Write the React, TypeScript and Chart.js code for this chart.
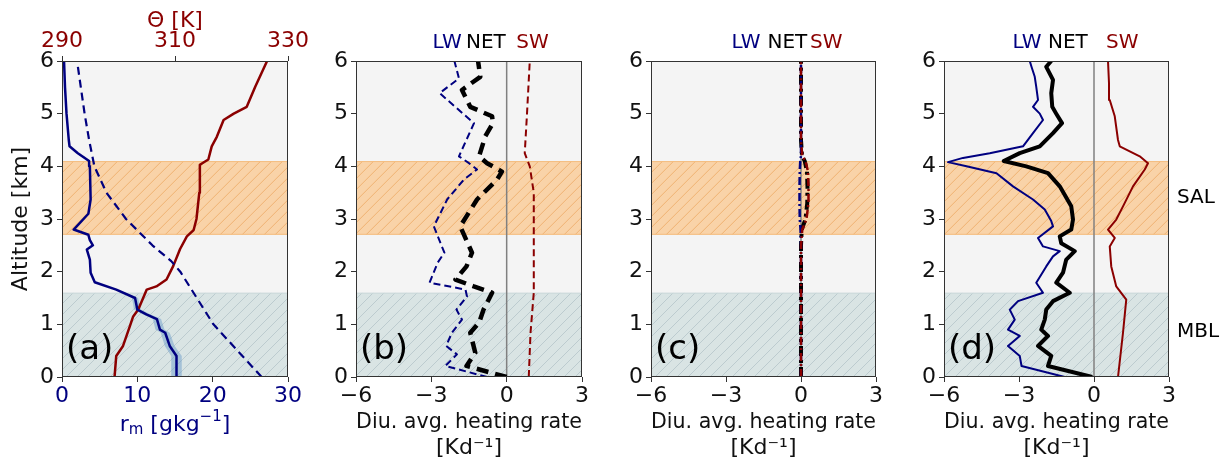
import React, { useEffect, useRef } from 'react';
import { Chart, registerables } from 'chart.js';
Chart.register(...registerables);

const FONT = 'DejaVu Sans';
const NAVY = '#000080';
const DARKRED = '#8b0000';
const FS = 22;

// Layer bands (km)
const SAL_BAND = [2.7, 4.1];
const MBL_BAND = [0, 1.6];
const BAND_NAMES = ['SAL', 'MBL'];

// Panel (a): moisture and potential temperature profiles
const rmAlt = [0, 0.4, 0.59, 0.84, 0.9, 1.1, 1.19, 1.28, 1.5, 1.66, 1.8, 1.98, 2.23, 2.42, 2.5, 2.6, 2.7, 2.8, 3.1, 3.37, 4.0, 4.1, 4.25, 4.38, 4.5, 5.0, 5.5, 6.0];
const rmVal = [15.2, 15.2, 14.3, 13.7, 13.0, 12.6, 11.2, 10.0, 9.7, 7.2, 4.35, 3.8, 3.7, 3.3, 4.1, 3.7, 3.5, 1.55, 3.5, 3.8, 3.7, 3.6, 2.1, 1.0, 0.9, 0.6, 0.4, 0.27];
const rmSpread = [0.7, 0.7, 0.65, 0.6, 0.6, 0.55, 0.5, 0.45, 0.4, 0.15, 0.1, 0, 0, 0, 0, 0, 0, 0, 0, 0, 0, 0, 0, 0, 0, 0, 0, 0];
const rsAlt = [0, 0.5, 1, 1.5, 2, 2.2, 2.5, 3, 3.5, 4, 4.5, 5, 5.5, 6];
const rsVal = [26.5, 23.3, 20.1, 17.9, 15.7, 14.5, 12.0, 8.5, 5.9, 4.3, 3.6, 3.0, 2.5, 2.0];
const thAlt = [0, 0.4, 0.59, 0.96, 1.15, 1.28, 1.66, 1.72, 1.85, 2.11, 2.43, 2.67, 2.79, 3.0, 3.5, 4.03, 4.13, 4.38, 4.56, 4.88, 5.0, 5.13, 5.51, 6.0];
const thVal = [299.3, 299.6, 300.8, 302.0, 302.6, 303.5, 305.0, 306.7, 308.5, 309.7, 310.9, 312.1, 313.3, 313.8, 314.3, 314.4, 315.9, 316.5, 317.4, 318.6, 320.4, 322.7, 324.2, 326.3];

// Panel (b)
const bLWAlt = [0, 0.21, 0.43, 0.59, 0.84, 1.09, 1.28, 1.53, 1.66, 1.79, 1.91, 2.17, 2.36, 2.86, 3.37, 3.75, 3.94, 4.06, 4.19, 4.82, 5.0, 5.39, 5.67, 6.0];
const bLWVal = [-0.78, -2.44, -1.98, -2.41, -2.18, -1.78, -2.0, -1.58, -1.64, -3.07, -2.97, -2.75, -2.48, -2.9, -2.37, -1.7, -1.18, -1.5, -1.9, -1.3, -1.74, -2.67, -1.9, -2.08];
const bNETAlt = [0, 0.21, 0.46, 0.84, 1.03, 1.28, 1.6, 1.72, 1.85, 2.1, 2.36, 2.86, 3.37, 3.75, 3.9, 4.06, 4.19, 4.57, 4.82, 4.95, 5.13, 5.45, 5.7, 6.0];
const bNETVal = [0, -1.6, -1.25, -1.45, -1.1, -0.92, -0.58, -1.31, -2.04, -1.6, -1.38, -1.85, -1.18, -0.38, -0.19, -0.78, -1.1, -0.85, -0.55, -0.58, -1.45, -1.78, -1.05, -1.14];
const bSWAlt = [0, 0.84, 1.6, 2.74, 3.5, 4.0, 4.25, 5.0, 6.0];
const bSWVal = [0.88, 0.95, 1.08, 1.08, 1.08, 0.92, 0.72, 0.81, 0.92];

// Panel (c)
const cAlt = [0, 0.5, 1, 1.5, 2, 2.5, 2.8, 3.0, 3.3, 3.6, 3.9, 4.1, 4.2, 4.5, 5, 5.5, 6];
const cLWVal = [0, 0, 0, 0, 0, 0, -0.02, -0.05, -0.06, -0.06, -0.05, -0.03, 0, 0, 0, 0, 0];
const cNETVal = [0, 0, 0, 0, 0, 0, 0.03, 0.18, 0.25, 0.26, 0.24, 0.15, 0.04, 0, 0, 0, 0];
const cSWVal = [0, 0, 0, 0, 0, 0, 0.05, 0.22, 0.3, 0.3, 0.28, 0.18, 0.05, 0, 0, 0, 0];

// Panel (d)
const dLWAlt = [0, 0.21, 0.4, 0.59, 0.78, 0.9, 1.09, 1.28, 1.44, 1.6, 1.79, 2.1, 2.29, 2.39, 2.48, 2.64, 2.86, 2.96, 3.18, 3.37, 3.62, 3.87, 4.0, 4.08, 4.16, 4.25, 4.38, 4.63, 4.88, 5.0, 5.13, 5.26, 5.51, 5.7, 5.89, 6.0];
const dLWVal = [-1.17, -2.9, -2.97, -3.44, -2.97, -3.44, -3.17, -3.37, -3.04, -2.04, -2.31, -1.91, -1.64, -1.37, -2.04, -2.24, -1.64, -1.71, -1.97, -2.44, -3.24, -3.9, -5.1, -5.84, -5.24, -4.17, -2.84, -2.44, -2.04, -2.17, -2.44, -2.24, -2.31, -2.37, -2.5, -2.57];
const dNETAlt = [0, 0.21, 0.4, 0.59, 0.78, 0.9, 1.09, 1.28, 1.44, 1.6, 1.79, 1.98, 2.23, 2.39, 2.54, 2.67, 2.8, 2.99, 3.24, 3.62, 3.87, 4.0, 4.1, 4.25, 4.38, 4.63, 4.82, 5.0, 5.13, 5.39, 5.64, 5.89, 6.0];
const dNETVal = [-0.07, -1.84, -1.71, -2.24, -1.84, -2.11, -1.97, -1.91, -1.64, -0.97, -1.51, -1.24, -1.11, -0.77, -1.31, -1.37, -0.91, -0.84, -0.91, -1.37, -1.84, -2.71, -3.61, -2.97, -2.17, -1.64, -1.28, -1.51, -1.67, -1.71, -1.64, -1.91, -1.71];
const dSWAlt = [0, 0.84, 1.47, 1.72, 2.1, 2.48, 2.64, 2.8, 2.99, 3.24, 3.62, 3.94, 4.06, 4.19, 4.38, 4.5, 4.95, 5.26, 5.58, 6.0];
const dSWVal = [0.96, 1.16, 1.29, 0.89, 0.69, 0.63, 0.83, 0.56, 0.89, 1.16, 1.56, 2.03, 2.16, 1.83, 1.03, 0.96, 0.83, 0.63, 0.6, 0.56];

// Tick settings
const altTicks = { min: 0, max: 6, step: 1 };
const rmTicks = { min: 0, max: 30, step: 10 };
const thTicks = { min: 290, max: 330, step: 20 };
const hrTicks = { min: -6, max: 3, step: 3 };

const TOP_LABELS = ['LW', 'NET', 'SW'];
const TOP_COLORS = [NAVY, '#000000', DARKRED];

const minus = (v: any) => String(v).replace('-', '\u2212');

function line(alt: number[], val: number[], color: string, width: number, dash: number[] = [], xAxisID = 'x') {
  return {
    data: alt.map((y, i) => ({ x: val[i], y })),
    borderColor: color,
    backgroundColor: color,
    borderWidth: width,
    borderDash: dash,
    showLine: true,
    pointRadius: 0,
    pointHoverRadius: 0,
    fill: false,
    tension: 0,
    xAxisID,
    yAxisID: 'y',
    borderJoinStyle: 'round',
  };
}

function hatchBand(ctx: CanvasRenderingContext2D, x0: number, y0: number, x1: number, y1: number, fill: string, hatch: string, edge: string) {
  ctx.save();
  ctx.fillStyle = fill;
  ctx.fillRect(x0, y0, x1 - x0, y1 - y0);
  ctx.beginPath();
  ctx.rect(x0, y0, x1 - x0, y1 - y0);
  ctx.clip();
  ctx.strokeStyle = hatch;
  ctx.lineWidth = 1;
  ctx.beginPath();
  const h = y1 - y0;
  const start = Math.floor((x0 - h) / 11) * 11;
  for (let x = start; x < x1 + h; x += 11) {
    ctx.moveTo(x, y1);
    ctx.lineTo(x + h, y0);
  }
  ctx.stroke();
  ctx.restore();
  ctx.save();
  ctx.strokeStyle = edge;
  ctx.lineWidth = 1;
  ctx.beginPath();
  ctx.moveTo(x0, y0 + 0.5);
  ctx.lineTo(x1, y0 + 0.5);
  ctx.moveTo(x0, y1 - 0.5);
  ctx.lineTo(x1, y1 - 0.5);
  ctx.stroke();
  ctx.restore();
}

function drawRich(ctx: CanvasRenderingContext2D, parts: { t: string; s: number; dy: number }[], cx: number, cy: number, color: string) {
  ctx.save();
  ctx.fillStyle = color;
  ctx.textBaseline = 'middle';
  ctx.textAlign = 'left';
  let total = 0;
  for (const p of parts) {
    ctx.font = `${p.s}px "${FONT}"`;
    total += ctx.measureText(p.t).width;
  }
  let x = cx - total / 2;
  for (const p of parts) {
    ctx.font = `${p.s}px "${FONT}"`;
    ctx.fillText(p.t, x, cy + p.dy);
    x += ctx.measureText(p.t).width;
  }
  ctx.restore();
}

type PanelOpts = {
  key: string;
  left: number;
  width: number;
  yAxisWidth: number;
  padRight: number;
  datasets: any[];
  topLabelX?: number[];
  zeroLine?: boolean;
  shade?: boolean;
  bandNames?: boolean;
  isA?: boolean;
};

function decoPlugin(o: PanelOpts) {
  return {
    id: 'deco',
    beforeDatasetsDraw(chart: any) {
      const { ctx, chartArea: a, scales } = chart;
      const y = scales.y;
      ctx.save();
      ctx.fillStyle = '#f4f4f4';
      ctx.fillRect(a.left, a.top, a.right - a.left, a.bottom - a.top);
      hatchBand(ctx, a.left, y.getPixelForValue(SAL_BAND[1]), a.right, y.getPixelForValue(SAL_BAND[0]), '#f9d3a8', '#efb272', '#f4bd80');
      hatchBand(ctx, a.left, y.getPixelForValue(MBL_BAND[1]), a.right, y.getPixelForValue(MBL_BAND[0]), '#d9e4e4', '#bccbcf', '#cbd8da');
      if (o.zeroLine) {
        const x0 = scales.x.getPixelForValue(0);
        ctx.strokeStyle = '#808080';
        ctx.lineWidth = 1.5;
        ctx.beginPath();
        ctx.moveTo(x0, a.top);
        ctx.lineTo(x0, a.bottom);
        ctx.stroke();
      }
      if (o.shade) {
        const x = scales.x;
        ctx.fillStyle = 'rgba(100,150,200,0.45)';
        ctx.beginPath();
        rmAlt.forEach((alt, i) => {
          const px = x.getPixelForValue(rmVal[i] - rmSpread[i]);
          const py = y.getPixelForValue(alt);
          if (i === 0) ctx.moveTo(px, py); else ctx.lineTo(px, py);
        });
        for (let i = rmAlt.length - 1; i >= 0; i--) {
          ctx.lineTo(x.getPixelForValue(rmVal[i] + rmSpread[i]), y.getPixelForValue(rmAlt[i]));
        }
        ctx.closePath();
        ctx.fill();
      }
      ctx.restore();
    },
    afterDatasetsDraw(chart: any) {
      const { ctx, chartArea: a } = chart;
      ctx.save();
      ctx.strokeStyle = '#333';
      ctx.lineWidth = 1;
      ctx.strokeRect(Math.round(a.left) + 0.5, Math.round(a.top) + 0.5, Math.round(a.right - a.left) - 1, Math.round(a.bottom - a.top) - 1);
      ctx.restore();
    },
    afterDraw(chart: any) {
      const { ctx, chartArea: a, scales } = chart;
      const y = scales.y;
      ctx.save();
      ctx.fillStyle = '#000';
      ctx.font = `34px "${FONT}"`;
      ctx.textAlign = 'left';
      ctx.textBaseline = 'middle';
      ctx.fillText(`(${o.key})`, a.left + 4, y.getPixelForValue(0.5));
      if (o.topLabelX) {
        ctx.font = `20px "${FONT}"`;
        TOP_LABELS.forEach((t, i) => {
          ctx.fillStyle = TOP_COLORS[i];
          ctx.fillText(t, scales.x.getPixelForValue(o.topLabelX![i]), a.top - 18);
        });
      }
      if (o.bandNames) {
        ctx.fillStyle = '#000';
        ctx.font = `20px "${FONT}"`;
        ctx.fillText(BAND_NAMES[0], a.right + 8, y.getPixelForValue((SAL_BAND[0] + SAL_BAND[1]) / 2));
        ctx.fillText(BAND_NAMES[1], a.right + 8, y.getPixelForValue((MBL_BAND[0] + MBL_BAND[1]) / 2) - 3);
      }
      if (o.isA) {
        drawRich(ctx, [
          { t: 'r', s: FS, dy: 0 },
          { t: 'm', s: 15, dy: 5 },
          { t: ' [gkg', s: FS, dy: 0 },
          { t: '\u22121', s: 15, dy: -8 },
          { t: ']', s: FS, dy: 0 },
        ], (a.left + a.right) / 2, 425, NAVY);
      }
      ctx.restore();
    },
  };
}

function makeConfig(o: PanelOpts): any {
  const tickFont = { family: FONT, size: FS };
  const gridOpts = { drawOnChartArea: false, drawTicks: true, tickLength: 5, color: '#333', tickColor: '#333', tickWidth: 1 };
  const yAxisWidth = o.yAxisWidth;
  const scales: any = {
    y: {
      type: 'linear',
      position: 'left',
      min: altTicks.min,
      max: altTicks.max,
      ticks: { stepSize: altTicks.step, font: tickFont, color: '#111', padding: 3, callback: minus },
      grid: gridOpts,
      border: { display: false },
      title: o.isA
        ? { display: true, text: 'Altitude [km]', color: '#111', font: { family: FONT, size: FS, lineHeight: 1.2 }, padding: { top: 8, bottom: 0 } }
        : { display: false },
      afterFit: (s: any) => { s.width = yAxisWidth; },
    },
  };
  if (o.isA) {
    scales.x = {
      type: 'linear',
      position: 'bottom',
      min: rmTicks.min,
      max: rmTicks.max,
      ticks: { stepSize: rmTicks.step, font: tickFont, color: NAVY, padding: 1, callback: minus },
      grid: gridOpts,
      border: { display: false },
      title: { display: false },
      afterFit: (s: any) => { s.height = 86; },
    };
    scales.x2 = {
      type: 'linear',
      position: 'top',
      min: thTicks.min,
      max: thTicks.max,
      ticks: { stepSize: thTicks.step, font: tickFont, color: DARKRED, padding: 2, callback: minus },
      grid: gridOpts,
      border: { display: false },
      title: { display: true, text: '\u0398 [K]', color: DARKRED, font: { family: FONT, size: FS, lineHeight: '26px' }, padding: { top: 8, bottom: 0 } },
      afterFit: (s: any) => { s.height = 61; },
    };
  } else {
    scales.x = {
      type: 'linear',
      position: 'bottom',
      min: hrTicks.min,
      max: hrTicks.max,
      ticks: { stepSize: hrTicks.step, font: tickFont, color: '#111', padding: 1, callback: minus },
      grid: gridOpts,
      border: { display: false },
      title: {
        display: true,
        text: ['Diu. avg. heating rate', '[Kd\u207B\u00B9]'],
        color: '#111',
        font: { family: FONT, size: FS, lineHeight: '26px' },
        padding: { top: 0, bottom: 2 },
      },
      afterFit: (s: any) => { s.height = 86; },
    };
  }
  return {
    type: 'scatter',
    data: { datasets: o.datasets },
    options: {
      responsive: false,
      animation: false,
      events: [],
      devicePixelRatio: 1,
      layout: { padding: { left: 0, right: o.padRight, top: o.isA ? 0 : 61, bottom: 0 } },
      plugins: { legend: { display: false }, tooltip: { enabled: false } },
      scales,
    },
    plugins: [decoPlugin(o)],
  };
}

const PANELS: PanelOpts[] = [
  {
    key: 'a', left: 0, width: 320, yAxisWidth: 62, padRight: 32, isA: true, shade: true,
    datasets: [
      line(rsAlt, rsVal, NAVY, 2.2, [8, 5]),
      line(rmAlt, rmVal, NAVY, 2.5),
      line(thAlt, thVal, DARKRED, 2.5, [], 'x2'),
    ],
  },
  {
    key: 'b', left: 300, width: 300, yAxisWidth: 56, padRight: 18, zeroLine: true,
    topLabelX: [-2.95, -1.62, 0.38],
    datasets: [
      line(bLWAlt, bLWVal, NAVY, 2, [7, 4]),
      line(bSWAlt, bSWVal, DARKRED, 2, [7, 4]),
      line(bNETAlt, bNETVal, '#000', 4.5, [12, 7]),
    ],
  },
  {
    key: 'c', left: 600, width: 300, yAxisWidth: 51, padRight: 24, zeroLine: true,
    topLabelX: [-2.78, -1.34, 0.36],
    datasets: [
      line(cAlt, cSWVal, DARKRED, 2.5, [8, 3, 2, 3]),
      line(cAlt, cLWVal, NAVY, 2.5, [8, 3, 2, 3]),
      line(cAlt, cNETVal, '#000', 4, [10, 4, 3, 4]),
    ],
  },
  {
    key: 'd', left: 900, width: 322, yAxisWidth: 44, padRight: 53, zeroLine: true, bandNames: true,
    topLabelX: [-3.26, -1.84, 0.48],
    datasets: [
      line(dLWAlt, dLWVal, NAVY, 2),
      line(dSWAlt, dSWVal, DARKRED, 2),
      line(dNETAlt, dNETVal, '#000', 4),
    ],
  },
];

function Panel({ o }: { o: PanelOpts }) {
  const ref = useRef<HTMLCanvasElement>(null);
  useEffect(() => {
    if (!ref.current) return;
    const chart = new Chart(ref.current, makeConfig(o));
    return () => chart.destroy();
  }, [o]);
  return (
    <canvas
      ref={ref}
      width={o.width}
      height={463}
      style={{ position: 'absolute', left: o.left, top: 0, width: o.width, height: 463 }}
    />
  );
}

export default function App() {
  return (
    <div style={{ position: 'absolute', left: 0, top: 0, width: 1222, height: 463, background: '#fff', overflow: 'hidden' }}>
      {PANELS.map((p) => (
        <Panel key={p.key} o={p} />
      ))}
    </div>
  );
}
